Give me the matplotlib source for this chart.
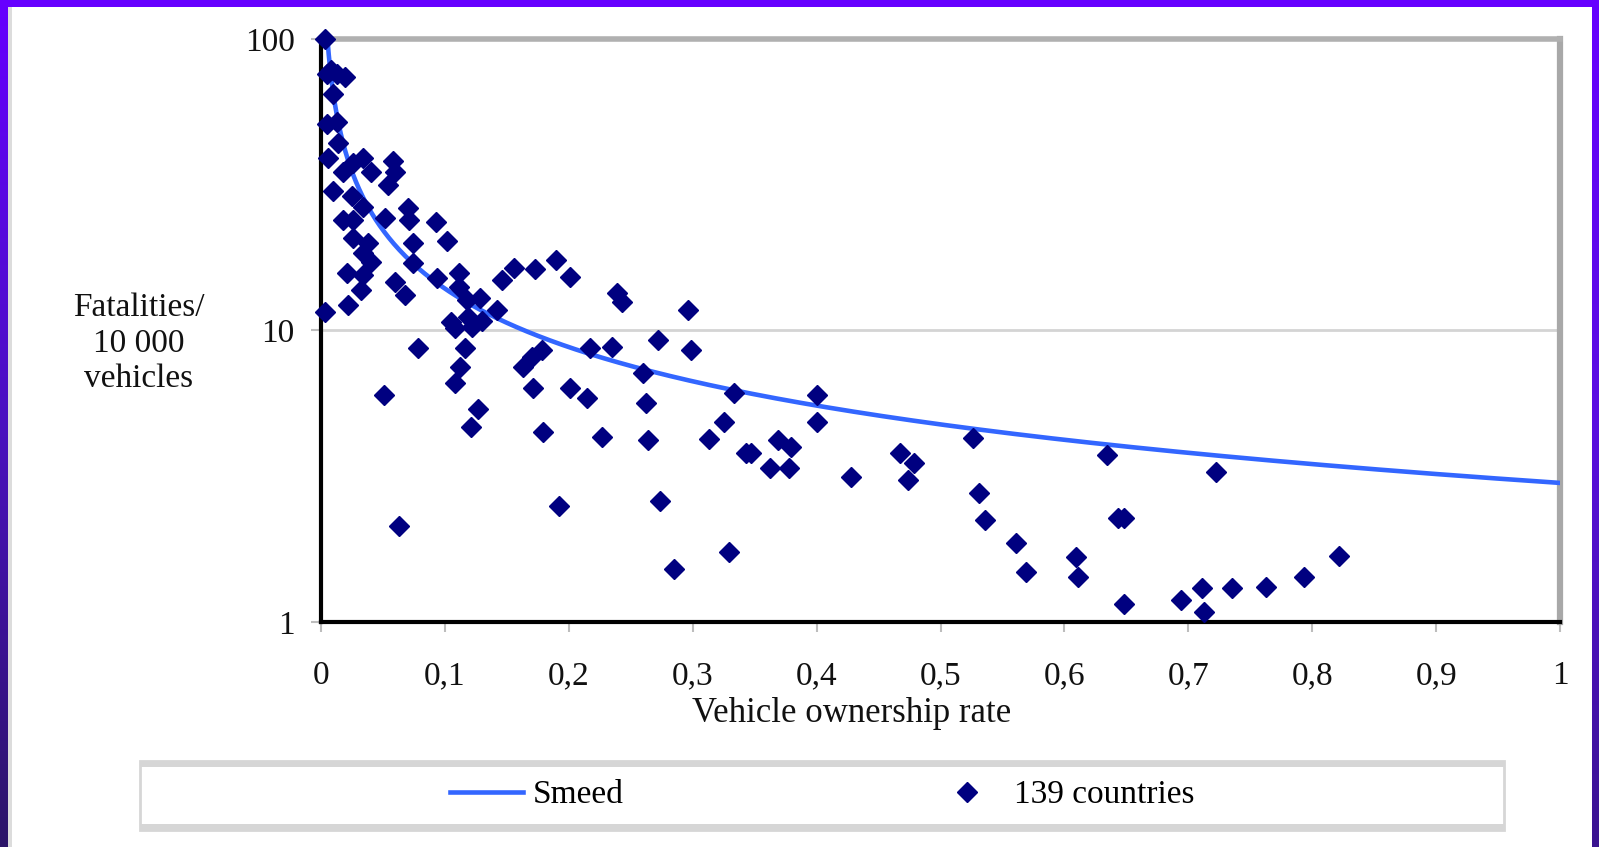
import numpy as np
import matplotlib.pyplot as plt
from matplotlib.patches import Rectangle
from matplotlib.colors import LinearSegmentedColormap
from matplotlib.ticker import NullLocator

plt.rcParams['font.family'] = ['Liberation Serif', 'DejaVu Serif']

# vehicle ownership rate (vehicles per person) of the countries
own = [0.003, 0.005, 0.008, 0.013, 0.019, 0.010, 0.005, 0.013, 0.014, 0.006,
       0.026, 0.034, 0.040, 0.018, 0.058, 0.060, 0.054, 0.010, 0.025, 0.034,
       0.018, 0.026, 0.052, 0.070, 0.071, 0.093, 0.026, 0.038, 0.034, 0.040,
       0.074, 0.102, 0.074, 0.021, 0.034, 0.060, 0.068, 0.032, 0.022, 0.003,
       0.094, 0.111, 0.111, 0.118, 0.128, 0.119, 0.130, 0.122, 0.105, 0.108,
       0.142, 0.146, 0.156, 0.173, 0.190, 0.201, 0.239, 0.243, 0.296, 0.078,
       0.116, 0.112, 0.108, 0.051, 0.063, 0.127, 0.121, 0.163, 0.170, 0.178,
       0.171, 0.179, 0.192, 0.201, 0.215, 0.217, 0.235, 0.227, 0.272, 0.260,
       0.262, 0.264, 0.274, 0.285, 0.299, 0.313, 0.325, 0.329, 0.333, 0.343,
       0.347, 0.362, 0.369, 0.379, 0.378, 0.400, 0.400, 0.428, 0.467, 0.479,
       0.474, 0.526, 0.531, 0.536, 0.561, 0.569, 0.609, 0.611, 0.634, 0.643,
       0.648, 0.648, 0.694, 0.711, 0.713, 0.722, 0.735, 0.763, 0.793, 0.822]

# fatalities per 10 000 vehicles for the same countries
fat = [100, 76, 78, 76, 74, 65, 51, 52, 44, 39,
       37.6, 39, 35, 35, 38, 35, 31.6, 30, 29, 26.5,
       24, 24, 24.3, 26.3, 24, 23.5, 20.8, 20, 18.4, 17.2,
       20, 20.2, 17, 15.7, 15.5, 14.7, 13.2, 13.8, 12.2, 11.6,
       15.1, 15.7, 14.1, 12.7, 12.9, 11.1, 10.8, 10.3, 10.7, 10.2,
       11.8, 14.9, 16.4, 16.3, 17.5, 15.2, 13.5, 12.5, 11.8, 8.7,
       8.7, 7.5, 6.6, 6.0, 2.14, 5.4, 4.65, 7.5, 8.1, 8.6,
       6.35, 4.49, 2.5, 6.35, 5.87, 8.7, 8.8, 4.3, 9.3, 7.15,
       5.64, 4.2, 2.6, 1.52, 8.6, 4.25, 4.85, 1.74, 6.1, 3.8,
       3.8, 3.38, 4.2, 3.98, 3.38, 6.0, 4.85, 3.14, 3.8, 3.51,
       3.07, 4.28, 2.77, 2.24, 1.87, 1.48, 1.67, 1.43, 3.74, 2.27,
       2.27, 1.15, 1.19, 1.31, 1.08, 3.27, 1.31, 1.32, 1.43, 1.68]

# Smeed's law, per 10 000 vehicles: F/V = 3 * (V/P)^(-2/3)
smeed_coef = 3.0
smeed_exp = -2.0 / 3.0

x_ticks = [0, 0.1, 0.2, 0.3, 0.4, 0.5, 0.6, 0.7, 0.8, 0.9, 1]
x_tick_labels = ['0', '0,1', '0,2', '0,3', '0,4', '0,5', '0,6', '0,7', '0,8', '0,9', '1']
y_ticks = [1, 10, 100]
y_tick_labels = ['1', '10', '100']

W, H = 1599, 847
fig = plt.figure(figsize=(W / 100, H / 100), dpi=100)

# purple slide frame behind the chart
bg = fig.add_axes([0, 0, 1, 1], zorder=-5)
cm_l = LinearSegmentedColormap.from_list('left', ['#6600ff', '#4a10c0', '#2b1468'])
cm_r = LinearSegmentedColormap.from_list('right', ['#6600ff', '#5a0ee0', '#3a1490'])
grad = np.linspace(0, 1, 256).reshape(-1, 1)
bg.imshow(grad, cmap=cm_l, extent=(0, 8, H, 0), aspect='auto')
bg.imshow(grad, cmap=cm_r, extent=(1592, W, H, 0), aspect='auto')
bg.add_patch(Rectangle((0, 0), W, 7, color='#6600ff', lw=0))
bg.add_patch(Rectangle((8, 7), 4, H - 7, color='#dcdcdc', lw=0))
# legend box
bg.add_patch(Rectangle((140, 761), 1364, 69, facecolor='white', edgecolor='#d6d6d6', lw=2))
bg.add_patch(Rectangle((140, 761), 1364, 6, color='#d6d6d6', lw=0))
bg.add_patch(Rectangle((140, 824), 1364, 6, color='#d6d6d6', lw=0))
bg.set_xlim(0, W)
bg.set_ylim(H, 0)
bg.axis('off')

ax = fig.add_axes([321 / W, 1 - 622 / H, (1560 - 321) / W, (622 - 39) / H])
ax.set_yscale('log')

xs = np.geomspace((smeed_coef / 100) ** (1 / -smeed_exp), 1, 300)
l1, = ax.plot(xs, smeed_coef * xs ** smeed_exp, color='#3366ff', lw=3.3, zorder=3, label='Smeed')
l2, = ax.plot(own, fat, ls='none', marker='D', ms=10, color='#000080', mec='#000080',
              zorder=4, clip_on=False, label='139 countries')

ax.set_xlim(0, 1)
ax.set_ylim(1, 100)
ax.set_xticks(x_ticks, x_tick_labels)
ax.set_yticks(y_ticks, y_tick_labels)
ax.yaxis.set_minor_locator(NullLocator())
ax.tick_params(axis='both', direction='out', length=7, width=1.5, color='#bdbdbd',
               labelsize=24, labelcolor='#111111', pad=12)
ax.tick_params(axis='x', pad=21)
ax.yaxis.grid(True, which='major', color='#d4d4d4', lw=2)
ax.set_axisbelow(True)

ax.spines['left'].set_color('black'); ax.spines['left'].set_linewidth(3)
ax.spines['bottom'].set_color('black'); ax.spines['bottom'].set_linewidth(3)
ax.spines['top'].set_color('#b0b0b0'); ax.spines['top'].set_linewidth(4)
ax.spines['right'].set_color('#a8a8a8'); ax.spines['right'].set_linewidth(4.5)

ax.set_xlabel('Vehicle ownership rate', fontsize=25, color='#111111')
ax.xaxis.set_label_coords(0.428, -0.128)
ax.set_ylabel('Fatalities/\n10 000\nvehicles', fontsize=24, color='#111111',
              rotation=0, ha='center', va='center', linespacing=1.22)
ax.yaxis.set_label_coords(-0.147, 0.478)

fig.legend(handles=[l1, l2], loc='center', bbox_to_anchor=(822 / W, 1 - 795 / H), ncol=2,
           frameon=False, fontsize=24, handlelength=2.2, handletextpad=0.3, columnspacing=9.2)

fig.savefig('out.png', dpi=100)
